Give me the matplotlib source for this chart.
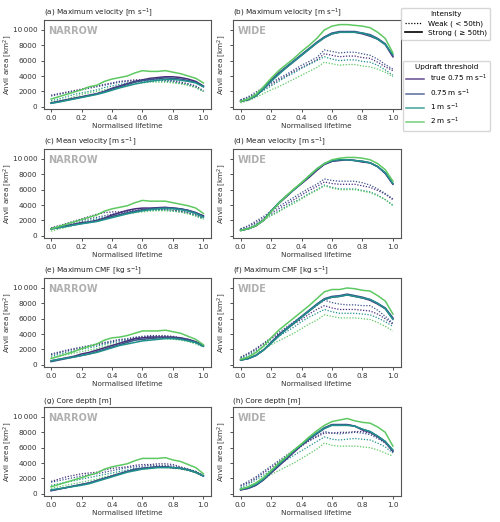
import numpy as np
import matplotlib
matplotlib.use("Agg")
import matplotlib.pyplot as plt
from matplotlib.lines import Line2D
from matplotlib.ticker import FuncFormatter

lifetime = np.round(np.arange(0, 1.0001, 0.05), 2)
thresholds = ["true 0.75 m s$^{-1}$", "0.75 m s$^{-1}$", "1 m s$^{-1}$", "2 m s$^{-1}$"]
colors = ["#472c7a", "#3b528b", "#21918c", "#5ec962"]
titles = ["(a) Maximum velocity [m s$^{-1}$]", "(b) Maximum velocity [m s$^{-1}$]",
          "(c) Mean velocity [m s$^{-1}$]", "(d) Mean velocity [m s$^{-1}$]",
          "(e) Maximum CMF [kg s$^{-1}$]", "(f) Maximum CMF [kg s$^{-1}$]",
          "(g) Core depth [m]", "(h) Core depth [m]"]
regimes = ["NARROW", "WIDE"]

# strong (>= 50th) series, order: true0.75, 0.75, 1, 2
a_strong = [
    [500,700,900,1100,1300,1500,1700,2000,2400,2700,3000,3300,3500,3700,3800,3900,3900,3800,3600,3300,2700],
    [450,650,850,1050,1250,1450,1650,1950,2300,2600,2900,3200,3400,3550,3650,3750,3700,3600,3400,3200,2600],
    [450,600,800,1000,1200,1400,1600,1850,2150,2450,2700,2950,3150,3300,3450,3550,3550,3450,3300,3100,2600],
    [1000,1300,1600,1900,2200,2600,2800,3300,3600,3800,4000,4400,4700,4600,4600,4700,4500,4300,4000,3700,3100],
]
a_weak = [
    [1500,1700,1900,2100,2300,2500,2700,2900,3100,3300,3400,3500,3500,3500,3500,3500,3400,3200,3000,2700,2100],
    [1400,1600,1800,2000,2200,2400,2600,2800,3000,3200,3300,3400,3450,3500,3500,3400,3300,3100,2900,2600,2000],
    [800,1000,1300,1600,1800,2000,2200,2500,2700,2900,3100,3200,3300,3350,3350,3300,3200,3000,2800,2500,2000],
    [600,800,1000,1300,1600,1800,2000,2200,2400,2600,2800,3000,3100,3200,3200,3200,3100,3000,2800,2500,2000],
]
b_strong = [
    [700,900,1400,2300,3400,4300,5100,5900,6700,7500,8300,9000,9500,9700,9700,9700,9500,9200,8800,8100,6500],
    [700,950,1450,2350,3450,4400,5200,6000,6800,7600,8400,9100,9600,9800,9800,9800,9600,9400,8900,8200,6600],
    [700,950,1400,2300,3300,4200,5100,5900,6700,7500,8300,9000,9500,9700,9700,9700,9600,9300,8800,8100,6800],
    [700,1000,1600,2600,3700,4700,5500,6300,7200,8000,8900,10000,10500,10700,10700,10600,10500,10300,9700,8900,7000],
]
b_weak = [
    [900,1200,1700,2300,2900,3500,4000,4600,5100,5600,6100,6900,6700,6500,6600,6600,6400,6300,5800,5200,4700],
    [900,1300,1900,2500,3100,3700,4200,4800,5400,5900,6400,7400,7200,7000,7100,7100,6900,6700,6200,5500,4900],
    [700,1100,1600,2100,2700,3300,3900,4400,5000,5500,6000,6500,6200,6000,6100,6100,5900,5800,5400,4800,4100],
    [500,800,1200,1700,2200,2600,3100,3600,4100,4600,5100,5800,5600,5400,5500,5500,5300,5200,4900,4500,3900],
]
c_strong = [
    [900,1100,1300,1500,1700,1800,2000,2300,2700,3000,3300,3500,3600,3600,3650,3700,3600,3500,3300,3000,2600],
    [900,1050,1250,1400,1600,1750,1900,2200,2500,2750,3000,3200,3400,3500,3600,3650,3600,3500,3300,3000,2500],
    [900,1050,1200,1400,1550,1700,1850,2100,2350,2600,2850,3050,3250,3400,3500,3550,3500,3400,3200,2900,2400],
    [900,1200,1500,1800,2100,2400,2700,3200,3500,3700,3900,4300,4600,4500,4500,4500,4300,4100,3900,3600,2900],
]
c_weak = [
    [1000,1300,1600,1900,2200,2500,2800,3000,3100,3100,3200,3300,3400,3400,3400,3400,3300,3200,3000,2700,2300],
    [1000,1250,1500,1750,2000,2200,2400,2600,2800,3000,3100,3200,3300,3350,3400,3400,3300,3200,3000,2700,2300],
    [800,1050,1300,1550,1800,2000,2200,2400,2600,2800,2950,3100,3200,3300,3300,3300,3200,3100,2900,2600,2200],
    [600,850,1100,1350,1600,1800,2000,2250,2450,2650,2850,3000,3100,3200,3250,3250,3200,3050,2850,2550,2100],
]
d_strong = [
    [700,900,1300,2000,3200,4200,5100,6000,6800,7600,8500,9300,9700,9800,9900,9800,9600,9500,9000,8100,6700],
    [700,900,1300,2000,3200,4200,5100,6000,6800,7700,8600,9300,9700,9900,9900,9800,9700,9500,9000,8200,6800],
    [700,900,1300,2000,3200,4300,5200,6000,6900,7800,8700,9400,9800,9900,9900,9800,9700,9500,9000,8200,6800],
    [700,900,1300,2000,3100,4200,5200,6100,6900,7800,8700,9400,9900,10100,10200,10200,10100,9900,9400,8600,7100],
]
d_weak = [
    [900,1200,1700,2300,2900,3500,4100,4700,5300,5900,6400,7000,6800,6700,6700,6700,6500,6300,5900,5400,4700],
    [900,1300,1900,2500,3200,3800,4400,5000,5600,6200,6700,7400,7200,7100,7100,7100,6900,6600,6100,5500,4800],
    [700,1000,1500,2100,2700,3200,3800,4400,4900,5500,6000,6600,6300,6100,6100,6100,5900,5700,5300,4700,4000],
    [600,900,1400,2000,2600,3100,3700,4200,4800,5400,5900,6500,6200,6000,6000,6000,5800,5600,5200,4700,3900],
]
e_strong = [
    [500,700,900,1100,1400,1600,1900,2200,2500,2800,3100,3400,3500,3600,3600,3600,3600,3500,3300,3000,2500],
    [400,600,800,1000,1200,1400,1700,2000,2300,2600,2900,3200,3300,3400,3500,3500,3500,3400,3200,2900,2400],
    [500,700,850,1000,1200,1400,1600,1900,2200,2500,2700,2900,3100,3200,3300,3400,3400,3300,3100,2900,2400],
    [800,1100,1400,1700,2100,2400,2700,3200,3500,3600,3800,4100,4400,4400,4400,4500,4300,4100,3700,3300,2600],
]
e_weak = [
    [1300,1550,1800,2000,2200,2400,2600,2800,3000,3200,3300,3500,3600,3700,3700,3700,3600,3400,3200,2900,2400],
    [1400,1650,1900,2100,2300,2500,2700,2900,3100,3300,3400,3600,3700,3800,3800,3800,3700,3500,3300,3000,2500],
    [1100,1350,1600,1800,2000,2200,2400,2650,2850,3000,3200,3350,3500,3550,3550,3550,3450,3300,3100,2800,2400],
    [900,1100,1300,1500,1700,1900,2100,2400,2600,2800,3000,3200,3300,3400,3400,3400,3300,3200,3000,2700,2300],
]
f_strong = [
    [600,800,1200,1900,2800,3800,4600,5400,6200,7000,7800,8500,8800,8900,9100,8900,8700,8400,7900,7300,6000],
    [600,800,1200,1900,2900,3900,4700,5500,6300,7100,7900,8600,8900,9000,9200,9000,8800,8500,8000,7400,6100],
    [600,800,1200,1900,2800,3700,4600,5400,6200,7000,7800,8500,8800,8900,9100,8900,8700,8500,8000,7300,5900],
    [700,1000,1600,2400,3500,4500,5300,6100,6900,7700,8600,9500,9800,9800,10000,9900,9700,9600,9000,8300,6600],
]
f_weak = [
    [900,1400,2000,2700,3400,4000,4600,5300,5900,6600,7200,7700,7400,7200,7200,7200,7100,7000,6600,6000,5300],
    [1000,1500,2100,2800,3500,4200,4900,5600,6300,7000,7700,8400,8100,7900,7800,7800,7700,7700,7100,6300,5400],
    [800,1200,1800,2400,3100,3700,4300,4900,5600,6200,6700,7200,6900,6700,6700,6700,6600,6500,6100,5600,5000],
    [600,1000,1500,2000,2600,3100,3600,4100,4700,5300,5800,6500,6300,6100,6100,6100,6000,5900,5500,5000,4400],
]
g_strong = [
    [400,600,800,1000,1200,1400,1700,2000,2300,2600,2900,3100,3300,3400,3500,3500,3400,3300,3100,2800,2300],
    [400,600,800,1000,1200,1400,1700,2000,2300,2600,2900,3200,3300,3400,3500,3500,3400,3300,3100,2800,2300],
    [500,650,800,950,1100,1300,1600,1900,2200,2500,2800,3000,3200,3300,3400,3400,3400,3300,3100,2800,2300],
    [900,1200,1500,1800,2100,2400,2700,3200,3500,3700,3900,4300,4600,4600,4600,4700,4400,4200,3800,3400,2600],
]
g_weak = [
    [1600,1900,2200,2400,2600,2700,2800,3100,3300,3400,3500,3700,3800,3800,3900,3900,3800,3500,3200,2900,2400],
    [1500,1700,1900,2100,2300,2500,2600,2800,3000,3200,3400,3500,3600,3700,3700,3700,3600,3400,3200,2900,2300],
    [1100,1300,1500,1700,1900,2100,2300,2500,2700,2900,3100,3300,3400,3500,3500,3500,3400,3300,3100,2800,2300],
    [700,900,1100,1300,1500,1700,1900,2200,2400,2700,2900,3100,3200,3300,3400,3400,3300,3200,3000,2700,2300],
]
h_strong = [
    [500,700,1100,1800,2700,3600,4500,5400,6300,7100,7800,8500,9000,9000,9000,8800,8300,8000,7400,6700,5500],
    [500,700,1100,1800,2800,3700,4600,5500,6400,7200,7900,8600,9000,9000,9000,8800,8400,8100,7500,6800,5600],
    [600,800,1200,1900,2900,3800,4700,5600,6400,7200,7900,8500,8900,8900,8900,8800,8400,8100,7500,6800,5700],
    [600,900,1400,2100,3000,4000,4800,5700,6500,7400,8200,8900,9400,9600,9800,9500,9300,9200,8700,8000,6200],
]
h_weak = [
    [1000,1400,2000,2700,3400,4100,4800,5500,6200,6900,7400,7900,7900,8000,8000,8100,8100,7900,7500,6800,5600],
    [1100,1600,2200,2900,3600,4300,5000,5700,6300,6900,7500,8100,7900,7800,7900,8000,7900,7700,7200,6600,5700],
    [800,1200,1800,2400,3100,3800,4400,5000,5600,6200,6800,7400,7100,7000,7100,7200,7100,7000,6600,6100,5300],
    [500,900,1400,1900,2500,3000,3500,4000,4600,5200,5800,6600,6300,6200,6200,6200,6100,6000,5700,5300,4900],
]

panels = [(a_strong, a_weak), (b_strong, b_weak), (c_strong, c_weak), (d_strong, d_weak),
          (e_strong, e_weak), (f_strong, f_weak), (g_strong, g_weak), (h_strong, h_weak)]

FS = 5.2
plt.rcParams['font.family'] = ['DejaVu Sans']
plt.rcParams['font.size'] = FS

W, H = 500, 522
fig = plt.figure(figsize=(W / 100, H / 100), dpi=100)

lefts = [43.5, 233]
width = 167.5
tops = [20, 149, 278, 407]
height = 89
ylabel_x = [-0.175, -0.03]

def fmt(v, pos):
    v = int(round(v))
    s = f"{v:d}"
    if abs(v) >= 10000:
        s = f"{v:,}".replace(",", "\u2009")
    return s

for i, (strong, weak) in enumerate(panels):
    row, col = divmod(i, 2)
    ax = fig.add_axes([lefts[col] / W, 1 - (tops[row] + height) / H, width / W, height / H])
    for k in range(4):
        ax.plot(lifetime, weak[k], color=colors[k], lw=0.9, ls=(0, (1, 1.3)))
    for k in range(4):
        ax.plot(lifetime, strong[k], color=colors[k], lw=1.1, ls='-')
    ax.set_ylim(-300, 11300)
    ax.set_xlim(-0.05, 1.05)
    ax.set_yticks([0, 2000, 4000, 6000, 8000, 10000])
    ax.set_xticks([0, 0.2, 0.4, 0.6, 0.8, 1.0])
    ax.yaxis.set_major_formatter(FuncFormatter(fmt))
    ax.tick_params(labelsize=FS, length=2.5, width=0.6, colors='#333333', pad=2)
    if col == 1:
        ax.set_yticklabels([])
    for sp in ax.spines.values():
        sp.set_color('#555555')
        sp.set_linewidth(0.8)
    ax.set_ylabel("Anvil area [km$^2$]", fontsize=FS, color='#333333')
    ax.yaxis.set_label_coords(ylabel_x[col], 0.5)
    ax.set_xlabel("Normalised lifetime", fontsize=FS, color='#333333', labelpad=1.5)
    ax.set_title(titles[i], fontsize=FS, loc='left', pad=3.5, color='#222222')
    ax.text(0.03, 0.93, regimes[col], transform=ax.transAxes, fontsize=7,
            fontweight='bold', color='#b0b0b0', va='top', ha='left')

h1 = [Line2D([], [], color='k', lw=0.9, ls=(0, (1, 1.3))),
      Line2D([], [], color='k', lw=1.2, ls='-')]
leg1 = fig.legend(h1, ["Weak ( < 50th)", "Strong ( \u2265 50th)"], title="Intensity",
                  loc='upper right', bbox_to_anchor=(494 / W, 1 - 4 / H), fontsize=FS,
                  title_fontsize=FS, handlelength=2.4, frameon=True, borderpad=0.5,
                  labelspacing=0.4, handletextpad=0.8)
h2 = [Line2D([], [], color=c, lw=1.1, alpha=0.85) for c in colors]
leg2 = fig.legend(h2, thresholds, title="Updraft threshold", loc='upper right',
                  bbox_to_anchor=(494 / W, 1 - 57 / H), fontsize=FS, title_fontsize=FS,
                  handlelength=2.4, frameon=True, borderpad=0.5,
                  labelspacing=0.4, handletextpad=0.8)

fig.savefig("out.png", dpi=100)
